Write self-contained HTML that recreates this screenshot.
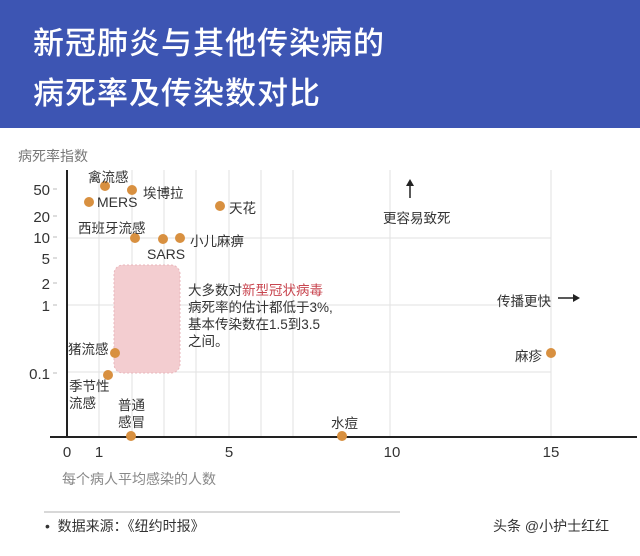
<!DOCTYPE html>
<html><head><meta charset="utf-8"><style>
body{margin:0;width:640px;height:556px;background:#fff;overflow:hidden;font-family:"Liberation Sans","Noto Sans CJK SC",sans-serif;}
.hd{position:absolute;left:0;top:0;width:640px;height:128px;background:#3d55b3;}
.t{position:absolute;left:33px;color:#fff;font-size:31px;letter-spacing:1px;font-weight:500;}
.a{position:absolute;font-size:13.5px;color:#333;white-space:nowrap;}
</style></head><body>
<div class="hd"></div>
<div class="t" style="top:18px">新冠肺炎与其他传染病的</div>
<div class="t" style="top:68px">病死率及传染数对比</div>
<svg width="640" height="556" style="position:absolute;left:0;top:0" font-family="Liberation Sans, Noto Sans CJK SC, sans-serif">
<g stroke="#e2e2e2" stroke-width="1">
<line x1="99" y1="170" x2="99" y2="437"/><line x1="132" y1="170" x2="132" y2="437"/>
<line x1="164" y1="170" x2="164" y2="437"/><line x1="196" y1="170" x2="196" y2="437"/>
<line x1="229" y1="170" x2="229" y2="437"/><line x1="261" y1="170" x2="261" y2="437"/>
<line x1="293" y1="170" x2="293" y2="437"/><line x1="390" y1="170" x2="390" y2="437"/>
<line x1="551" y1="170" x2="551" y2="437"/>
<line x1="67" y1="238" x2="551" y2="238"/><line x1="67" y1="305" x2="551" y2="305"/><line x1="67" y1="372" x2="551" y2="372"/>
</g>
<rect x="114" y="265" width="66" height="108" rx="9" fill="#f3cdd0" stroke="#e9b6bb" stroke-dasharray="2,2"/>
<line x1="67" y1="170" x2="67" y2="437" stroke="#222" stroke-width="2"/>
<line x1="50" y1="437" x2="637" y2="437" stroke="#222" stroke-width="2"/>
<g font-size="15" fill="#333" text-anchor="end">
<text x="50" y="195">50</text><text x="50" y="222">20</text><text x="50" y="243">10</text>
<text x="50" y="264">5</text><text x="50" y="289">2</text><text x="50" y="311">1</text><text x="50" y="379">0.1</text>
</g>
<g stroke="#bbb"><line x1="53" y1="189" x2="57" y2="189"/><line x1="53" y1="216" x2="57" y2="216"/><line x1="53" y1="237" x2="57" y2="237"/><line x1="53" y1="258" x2="57" y2="258"/><line x1="53" y1="283" x2="57" y2="283"/><line x1="53" y1="305" x2="57" y2="305"/><line x1="53" y1="373" x2="57" y2="373"/></g>
<g font-size="15" fill="#333" text-anchor="middle">
<text x="67" y="457">0</text><text x="99" y="457">1</text><text x="229" y="457">5</text><text x="392" y="457">10</text><text x="551" y="457">15</text>
</g>
<g fill="#d89040">
<circle cx="105" cy="186" r="5"/><circle cx="132" cy="190" r="5"/><circle cx="89" cy="202" r="5"/>
<circle cx="220" cy="206" r="5"/><circle cx="135" cy="238" r="5"/><circle cx="163" cy="239" r="5"/>
<circle cx="180" cy="238" r="5"/><circle cx="115" cy="353" r="5"/><circle cx="108" cy="375" r="5"/>
<circle cx="131" cy="436" r="5"/><circle cx="342" cy="436" r="5"/><circle cx="551" cy="353" r="5"/>
</g>
<line x1="410" y1="198" x2="410" y2="182" stroke="#222" stroke-width="1.5"/><path d="M406,186 L410,179 L414,186Z" fill="#222"/>
<line x1="558" y1="298" x2="576" y2="298" stroke="#222" stroke-width="1.5"/><path d="M573,294 L580,298 L573,302Z" fill="#222"/>
<line x1="44" y1="512" x2="400" y2="512" stroke="#ccc" stroke-width="1.5"/>
</svg>
<div class="a" style="left:18px;top:146px;font-size:14px;color:#777">病死率指数</div>
<div class="a" style="left:88px;top:166px">禽流感</div>
<div class="a" style="left:143px;top:182px">埃博拉</div>
<div class="a" style="left:97px;top:194px;font-size:14px">MERS</div>
<div class="a" style="left:229px;top:197px">天花</div>
<div class="a" style="left:78px;top:217px">西班牙流感</div>
<div class="a" style="left:190px;top:230px">小儿麻痹</div>
<div class="a" style="left:147px;top:246px;font-size:14px">SARS</div>
<div class="a" style="left:383px;top:207px">更容易致死</div>
<div class="a" style="left:497px;top:290px">传播更快</div>
<div class="a" style="left:188px;top:282px;line-height:17px">大多数对<span style="color:#c8454f">新型冠状病毒</span><br>病死率的估计都低于3%,<br>基本传染数在1.5到3.5<br>之间。</div>
<div class="a" style="left:68px;top:338px">猪流感</div>
<div class="a" style="left:69px;top:378px;line-height:17px">季节性<br>流感</div>
<div class="a" style="left:118px;top:397px;line-height:17px">普通<br>感冒</div>
<div class="a" style="left:331px;top:412px">水痘</div>
<div class="a" style="left:515px;top:345px">麻疹</div>
<div class="a" style="left:62px;top:469px;font-size:14px;color:#888">每个病人平均感染的人数</div>
<div class="a" style="left:45px;top:516px;font-size:14px;color:#333">•&nbsp; 数据来源：《纽约时报》</div>
<div class="a" style="left:493px;top:516px;font-size:14px;color:#333">头条 @小护士红红</div>
</body></html>
